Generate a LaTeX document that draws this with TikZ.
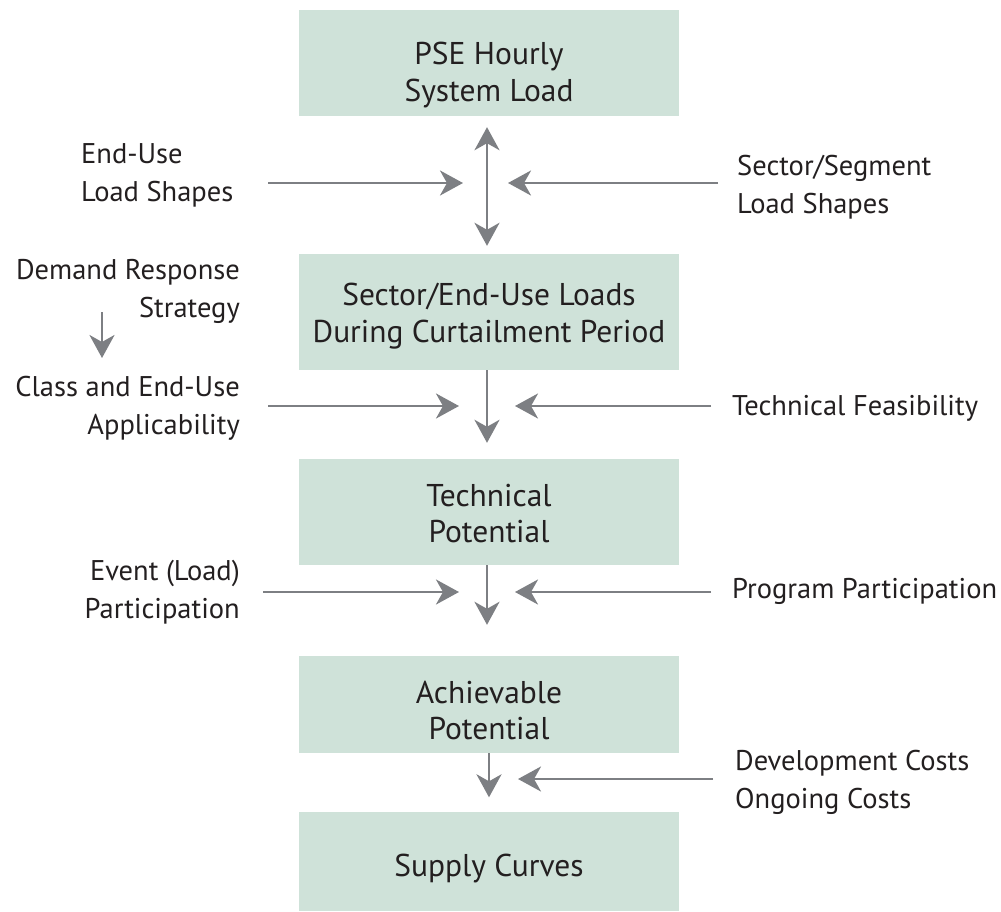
\documentclass[tikz,border=0pt]{standalone}
\usepackage{fontspec}
\setmainfont{PT Sans}
\usetikzlibrary{arrows.meta}
\definecolor{boxfill}{RGB}{207,226,217}
\definecolor{arrowgray}{RGB}{125,127,131}
\definecolor{textblack}{RGB}{35,31,32}
\newcommand{\boxlines}[2]{\raisebox{#1}[0pt][0pt]{\begin{tabular}{@{}c@{}}#2\end{tabular}}}
\begin{document}
\begin{tikzpicture}[x=1pt,y=-1pt,
  box/.style={fill=boxfill, draw=none, minimum width=380pt, inner sep=0pt, text=textblack, font=\fontsize{31.5}{36.7}\selectfont},
  lbl/.style={inner sep=0pt, text=textblack, font=\fontsize{28.5}{38}\selectfont},
  arr/.style={draw=arrowgray, line width=2.8pt, -{Stealth[length=23pt,width=25pt,inset=7pt]}},
  darr/.style={draw=arrowgray, line width=2.8pt, {Stealth[length=23pt,width=25pt,inset=7pt]}-{Stealth[length=23pt,width=25pt,inset=7pt]}}]
\useasboundingbox (0,0) rectangle (1001,911);
% boxes
\node[box, minimum height=106pt] (b1) at (489,63) {\boxlines{-19pt}{PSE Hourly\\System Load}};
\node[box, minimum height=116pt] (b2) at (489,312) {\boxlines{-11pt}{Sector/End-Use Loads\\During Curtailment Period}};
\node[box, minimum height=106pt] (b3) at (489,512) {\boxlines{-11.5pt}{Technical\\Potential}};
\node[box, minimum height=97pt] (b4) at (489,704.5) {\boxlines{-16pt}{Achievable\\Potential}};
\node[box, minimum height=99pt] (b5) at (489,861) {\boxlines{-14pt}{Supply Curves}};
% labels
\node[lbl, align=left, anchor=west] (eu) at (81,175) {End-Use\\Load Shapes};
\node[lbl, align=left, anchor=west] (ss) at (737,187) {Sector/Segment\\Load Shapes};
\node[lbl, align=right, anchor=east] (dr) at (240,291) {Demand Response\\Strategy};
\node[lbl, align=right, anchor=east] (ca) at (240,408) {Class and End-Use\\Applicability};
\node[lbl, align=left, anchor=west] (tf) at (732,408) {Technical Feasibility};
\node[lbl, align=right, anchor=east] (ev) at (240,592) {Event (Load)\\Participation};
\node[lbl, align=left, anchor=west] (pp) at (732,591) {Program Participation};
\node[lbl, align=left, anchor=west] (dc) at (735,782) {Development Costs\\Ongoing Costs};
% coordinates for free ends
\coordinate (h1a) at (268,183); \coordinate (h1b) at (463,183);
\coordinate (h1c) at (718,183); \coordinate (h1d) at (508,183);
\coordinate (h2a) at (268,406); \coordinate (h2b) at (459,406);
\coordinate (h2c) at (711,406); \coordinate (h2d) at (515,406);
\coordinate (h3a) at (263,592); \coordinate (h3b) at (459,592);
\coordinate (h3c) at (711,592); \coordinate (h3d) at (515,592);
\coordinate (h4c) at (713,779); \coordinate (h4d) at (518,779);
\coordinate (dra) at (102,312); \coordinate (drb) at (102,358);
% vertical connectors
\draw[darr, shorten <=11pt, shorten >=8pt] ([xshift=-2pt]b1.south) -- ([xshift=-2pt]b2.north);
\draw[arr, shorten >=16pt] ([xshift=-2pt]b2.south) -- ([xshift=-2pt]b3.north);
\draw[arr, shorten >=31pt] ([xshift=-2pt]b3.south) -- ([xshift=-2pt]b4.north);
\draw[arr, shorten >=14pt] (b4.south) -- (b5.north);
% horizontal connectors
\draw[arr] (h1a) -- (h1b);
\draw[arr] (h1c) -- (h1d);
\draw[arr] (h2a) -- (h2b);
\draw[arr] (h2c) -- (h2d);
\draw[arr] (h3a) -- (h3b);
\draw[arr] (h3c) -- (h3d);
\draw[arr] (h4c) -- (h4d);
\draw[arr] (dra) -- (drb);
\end{tikzpicture}
\end{document}
